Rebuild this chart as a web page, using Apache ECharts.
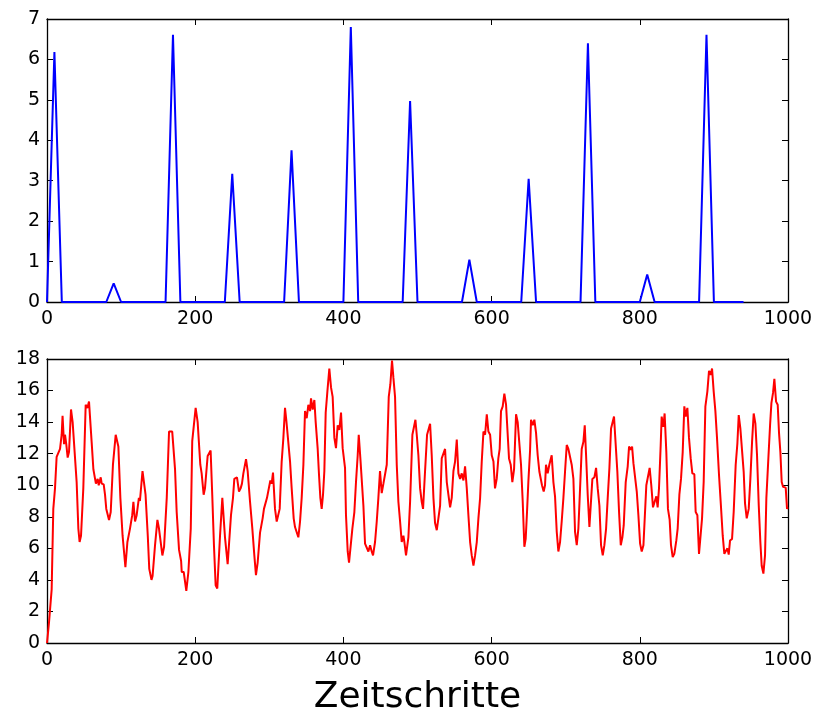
<!DOCTYPE html>
<html>
<head>
<meta charset="utf-8">
<script src="https://cdn.jsdelivr.net/npm/echarts@6/dist/echarts.min.js"></script>
<style>
  html, body { margin: 0; padding: 0; background: #fff; }
  #chart { width: 818px; height: 711px; }
</style>
</head>
<body>
<div id="chart"></div>
<script>
// Upper panel: impulse input (triangular pulses)
const pulseSteps = [0, 10, 20, 80, 90, 100, 160, 170, 180, 240, 250, 260,
  320, 330, 340, 400, 410, 420, 480, 490, 500, 560, 570, 580,
  640, 650, 660, 720, 730, 740, 800, 810, 820, 880, 890, 900, 940];
const pulseValues = [0, 6.18, 0, 0, 0.46, 0, 0, 6.61, 0, 0, 3.17, 0,
  0, 3.75, 0, 0, 6.80, 0, 0, 4.97, 0, 0, 1.05, 0,
  0, 3.05, 0, 0, 6.40, 0, 0, 0.68, 0, 0, 6.61, 0, 0];

// Lower panel: system response
const responseSteps = [
  0, 2.7, 6.3, 8.5, 10.8, 13, 15.3, 17.6, 19.8, 21, 23, 24.3, 26, 27.9, 29.7, 32.4, 34.6, 36.9,
  40, 42.3, 44, 45.9, 49, 52.2, 54.5, 56.7, 60.3, 62.6, 64.8, 66, 68.4, 69.8, 72.5, 73.8, 76.5,
  78.3, 80, 81.9, 83.7, 86, 89, 92.7, 96.3, 99, 102, 105.8, 108.5, 112, 115, 116.6, 118.8, 121,
  124, 125.4, 128.9, 133, 136, 138, 141, 142.5, 145.8, 149, 151, 153, 155.7, 158, 161.6, 164.7,
  167, 169, 172.8, 175, 178.2, 181, 181.8, 184.5, 188, 190.8, 194, 196,
  200.6, 203.3, 205.1, 206.9, 208.7, 211.4, 213.2, 216.8, 218.6, 220.8, 223, 225.3, 227.6, 229.8,
  233.5, 236.6, 240.2, 243.8, 246, 248.3, 251, 252.8, 254.6, 256.4, 259.1, 261.3, 263.1, 265,
  266.3, 268.6, 270.8, 274, 277.1, 279.8, 282, 284.3, 287.5, 291, 292.8, 295.1, 296.9, 298.7,
  301.4, 303.2, 305, 307.7, 310, 311.7, 314, 316.7, 319, 321.2, 323, 324.8, 328, 330.2, 332.9,
  334.7, 337, 339.2, 341.5, 343.7, 346, 348.2, 350.5, 352.7, 355, 356.3, 358.5, 360.8, 362.6,
  365.3, 367.1, 368.9, 370.7, 372.5, 374.3, 376.1, 378.4, 381, 383.3, 385.5, 387.8, 390, 392.3,
  394.5, 396.8, 399,
  402.2, 403.5, 405.8, 407.6, 409.9, 412.1, 414.8, 417, 419.3, 420.7, 422.9, 424.7, 427, 429.2,
  431.5, 433.7, 436, 438.2, 440, 442.7, 445, 447.2, 449.4, 451.7, 454, 456.2, 458.5, 461.2,
  463.4, 465.6, 467.5, 469.7, 472, 474.2, 476.5, 478.7, 481, 482.3, 484.5, 487.7, 490, 493.1,
  495.4, 497.2, 499, 501.2, 503.5, 505.7, 507.5, 510.2, 512.9, 514.7, 517, 519.2, 521.5, 523.7,
  526, 528.2, 530.5, 532.7, 535, 537.2, 539.5, 541.7, 544, 546.2, 548.5, 550.7, 553, 555.2,
  557.5, 559.7, 562, 564.2, 566.5, 568.7, 571, 573.2, 575.5, 577.7, 580, 582.2, 584.5, 586.7,
  589, 591.2, 593.5, 595.7, 598, 600.2, 602.5,
  604.6, 606.9, 609.1, 610.9, 612.7, 615, 617.2, 619.5, 621.7, 623.5, 625.8, 628, 630.3, 633,
  635.2, 637, 639.7, 642, 644.2, 646, 647.8, 649.6, 651.9, 653.2, 655.5, 657.7, 660, 662.2,
  664.5, 665.8, 668, 670.3, 672.1, 673.4, 675.7, 677.9, 681.1, 683.4, 685.6, 687.9, 690.1,
  692.4, 694.6, 696.9, 699.1, 701.4, 703.6, 705.9, 708.1, 710.4, 712.6, 714.9, 717.1, 719.4,
  721.6, 723.9, 725.7, 727.5, 729.7, 732, 734.2, 736, 738.7, 741, 743.2, 745.5, 747.7, 750,
  752.2, 754.5, 756.7, 759, 761.2, 763, 765.2, 767.5, 769.7, 772, 774.3, 776.5, 778.3, 781,
  783.7, 785.5, 787.8, 789.6, 791.4, 793.6, 795.9, 798.1, 800.4, 802.6, 804.9,
  808.8, 811, 813.3, 815.5, 817.8, 820, 822.3, 824.1, 825.9, 828.2, 829.5, 831.8, 833.5, 835.8,
  838, 840.3, 842.1, 844.4, 846.6, 849.3, 851.1, 853.4, 855.6, 857.9, 860.1, 861.9, 864.2,
  866.4, 868.7, 870.9, 873.6, 875.4, 877.7, 879.9, 881.7, 884, 886.2, 888.5, 891.2, 893.4,
  895.7, 897.5, 899.7, 902, 904.2, 906.9, 909.6, 911.9, 914.1, 916.4, 918.2, 920, 921.8, 924.5,
  926.7, 929.4, 931.7, 933.5, 935.7, 938, 940.2, 942, 944.3, 947, 949.2, 951.5, 953.7, 956,
  958.2, 960.5, 962.7, 964.5, 966.8, 969, 970.8, 973.5, 975.8, 977.6, 979.8, 981.6, 983.9,
  986.1, 987.9, 989.7, 991.5, 993.3, 995.1, 996.9, 998.7, 999.6
];
const responseValues = [
  0, 1.3, 3.4, 8.5, 9.8, 11.8, 11.8, 12.3, 13.2, 14.4, 12.6, 13.2, 12.6, 11.75, 12.1, 14.8, 14.0, 14.0,
  10.2, 7.25, 6.4, 6.8, 9.8, 15.1, 14.9, 15.3, 12.7, 11.0, 10.9, 10.1, 10.4, 10.0, 10.5, 10.1, 10.05,
  9.4, 8.5, 8.6, 7.8, 8.3, 11.3, 13.2, 12.45, 9.2, 6.8, 4.8, 6.4, 7.25, 8.1, 8.95, 7.7, 8.1,
  9.2, 9.0, 10.9, 9.4, 6.8, 4.7, 4.0, 4.25, 6.2, 7.8, 7.3, 7.25, 5.55, 6.1, 9.2, 13.4,
  13.3, 13.4, 11.0, 8.3, 5.9, 5.2, 4.5, 4.5, 3.3, 4.5, 7.25, 12.8,
  14.9, 14.0, 14.0, 11.3, 10.75, 9.4, 9.8, 11.85, 11.8, 12.2, 9.4, 6.2, 3.65, 3.45,
  6.8, 9.2, 6.7, 5.0, 5.1, 8.1, 9.2, 10.4, 10.3, 10.5, 9.6, 9.8, 10.1, 10.75,
  10.65, 11.65, 10.9, 8.95, 7.25, 5.55, 4.3, 5.1, 7.0, 7.9, 8.5, 8.4, 9.2, 9.3,
  10.3, 10.1, 10.8, 8.5, 7.7, 7.6, 8.5, 11.5, 13.0, 14.9, 14.1, 14.0, 11.5, 9.8, 7.9,
  7.35, 7.25, 6.7, 7.7, 9.2, 11.3, 14.7, 14.25, 15.1, 14.7, 15.5, 14.8, 15.4, 14.0,
  12.3, 10.65, 9.2, 8.5, 9.4, 10.9, 14.6, 15.95, 17.4, 16.2, 15.6, 13.0, 12.35, 13.8,
  13.5, 14.6, 12.35,
  11.1, 8.1, 5.8, 5.1, 5.0, 7.25, 8.3, 10.2, 11.9, 13.2, 11.7, 11.6, 8.7, 6.3,
  6.2, 5.8, 6.2, 5.8, 5.55, 6.4, 7.7, 9.2, 10.9, 9.5, 10.1, 10.0, 11.3, 15.6,
  16.4, 17.9, 16.8, 15.6, 11.3, 8.95, 7.7, 6.4, 6.8, 6.4, 5.55, 6.7, 8.95, 13.2,
  13.3, 14.15, 13.2, 11.9, 9.8, 8.95, 8.5, 10.9, 13.2, 13.1, 13.9, 11.9, 9.2, 7.6,
  7.15, 7.9, 8.7, 11.7, 11.8, 12.3, 10.2, 9.4, 8.6, 9.2, 10.9, 11.5, 12.9, 10.75,
  10.4, 10.75, 10.3, 11.2, 9.8, 8.1, 6.4, 5.55, 4.9, 5.55, 6.4, 7.9, 9.2, 11.5,
  13.4, 13.2, 14.5, 13.4, 13.2, 11.9, 11.5,
  9.8, 10.4, 11.7, 12.3, 14.7, 15.0, 15.8, 15.1, 15.2, 11.7, 11.3, 10.2, 11.0, 14.5,
  14.0, 14.0, 11.3, 8.95, 6.1, 6.6, 8.3, 10.2, 12.2, 14.15, 13.8, 14.15, 13.3, 11.9,
  10.85, 10.95, 10.0, 9.6, 10.0, 11.3, 10.75, 11.3, 11.9, 10.2, 9.3, 7.05, 5.8,
  6.4, 7.7, 9.2, 10.85, 12.55, 12.3, 12.35, 11.3, 10.4, 7.05, 6.2, 7.25, 9.8,
  12.3, 12.75, 13.8, 11.9, 9.4, 7.35, 7.25, 10.4, 10.5, 11.1, 9.8, 8.7, 6.2, 5.55,
  6.2, 7.25, 9.2, 11.1, 13.6, 13.7, 14.35, 12.55, 10.85, 8.3, 6.2, 6.7, 7.45, 10.2,
  11.2, 12.45, 12.25, 12.45, 11.4, 11.3, 9.6, 8.1, 6.3, 5.8, 6.2,
  10.0, 10.1, 11.1, 10.0, 8.6, 8.5, 9.3, 8.6, 9.8, 12.55, 14.35, 13.7, 14.55, 12.1,
  8.5, 7.8, 6.2, 5.45, 5.65, 6.5, 7.25, 9.4, 10.4, 12.1, 15.0, 14.35, 14.9,
  13.0, 11.7, 10.75, 10.7, 8.3, 8.1, 5.65, 5.75, 7.9, 10.2, 15.0, 15.95, 17.25,
  17.0, 17.4, 15.95, 14.7, 13.0, 10.65, 8.6, 6.8, 5.65, 5.55, 6.0, 5.6, 6.5, 6.6,
  8.3, 11.3, 12.65, 14.45, 13.6, 13.5, 10.85, 8.85, 7.9, 8.5, 10.4, 12.75, 14.55, 13.9,
  11.9, 8.75, 6.4, 4.9, 4.4, 5.55, 9.2, 11.7, 13.8, 15.2, 15.85, 16.75, 15.3,
  15.1, 13.3, 12.1, 10.2, 9.9, 9.8, 9.85, 8.5, 8.6
];

const xTicks = { min: 0, max: 1000, interval: 200 };
const pulseRange = { min: 0, max: 7, interval: 1 };
const responseRange = { min: 0, max: 18, interval: 2 };

function zip(xs, ys) { return xs.map((x, i) => [x, ys[i]]); }

const FONT = 'DejaVu Sans';
const frameLine = { show: true, onZero: false, lineStyle: { color: '#000', width: 1.3 } };
const tickIn = { show: true, inside: true, length: 6, lineStyle: { color: '#000', width: 1 } };
const labelStyle = { color: '#000', fontFamily: FONT, fontSize: 19, formatter: v => String(v) };

function bottomX(grid, name) {
  return {
    type: 'value', gridIndex: grid, min: xTicks.min, max: xTicks.max, interval: xTicks.interval,
    axisLine: frameLine, axisTick: tickIn, splitLine: { show: false },
    axisLabel: Object.assign({ margin: 8 }, labelStyle),
    name: name || '', nameLocation: 'middle', nameGap: 37,
    nameTextStyle: { color: '#000', fontFamily: FONT, fontSize: 36 }
  };
}
function topX(grid) {
  return {
    type: 'value', gridIndex: grid, position: 'top', min: xTicks.min, max: xTicks.max, interval: xTicks.interval,
    axisLine: frameLine, axisTick: tickIn, axisLabel: { show: false }, splitLine: { show: false }
  };
}
function leftY(grid, r) {
  return {
    type: 'value', gridIndex: grid, min: r.min, max: r.max, interval: r.interval,
    axisLine: frameLine, axisTick: tickIn, splitLine: { show: false },
    axisLabel: Object.assign({ margin: 7 }, labelStyle)
  };
}
function rightY(grid, r) {
  return {
    type: 'value', gridIndex: grid, position: 'right', min: r.min, max: r.max, interval: r.interval,
    axisLine: frameLine, axisTick: tickIn, axisLabel: { show: false }, splitLine: { show: false }
  };
}

const chart = echarts.init(document.getElementById('chart'), null, { renderer: 'canvas' });
chart.setOption({
  animation: false,
  backgroundColor: '#fff',
  grid: [
    { left: 47, top: 19, width: 741, height: 283, containLabel: false, outerBoundsMode: 'none' },
    { left: 47, top: 359, width: 741, height: 284, containLabel: false, outerBoundsMode: 'none' }
  ],
  xAxis: [bottomX(0), topX(0), bottomX(1, 'Zeitschritte'), topX(1)],
  yAxis: [leftY(0, pulseRange), rightY(0, pulseRange), leftY(1, responseRange), rightY(1, responseRange)],
  series: [
    {
      type: 'line', xAxisIndex: 0, yAxisIndex: 0, data: zip(pulseSteps, pulseValues),
      showSymbol: false, lineStyle: { color: '#0000ff', width: 2 }, z: 1
    },
    {
      type: 'line', xAxisIndex: 2, yAxisIndex: 2, data: zip(responseSteps, responseValues),
      showSymbol: false, lineStyle: { color: '#ff0000', width: 2 }, z: 1
    }
  ]
});
</script>
</body>
</html>
